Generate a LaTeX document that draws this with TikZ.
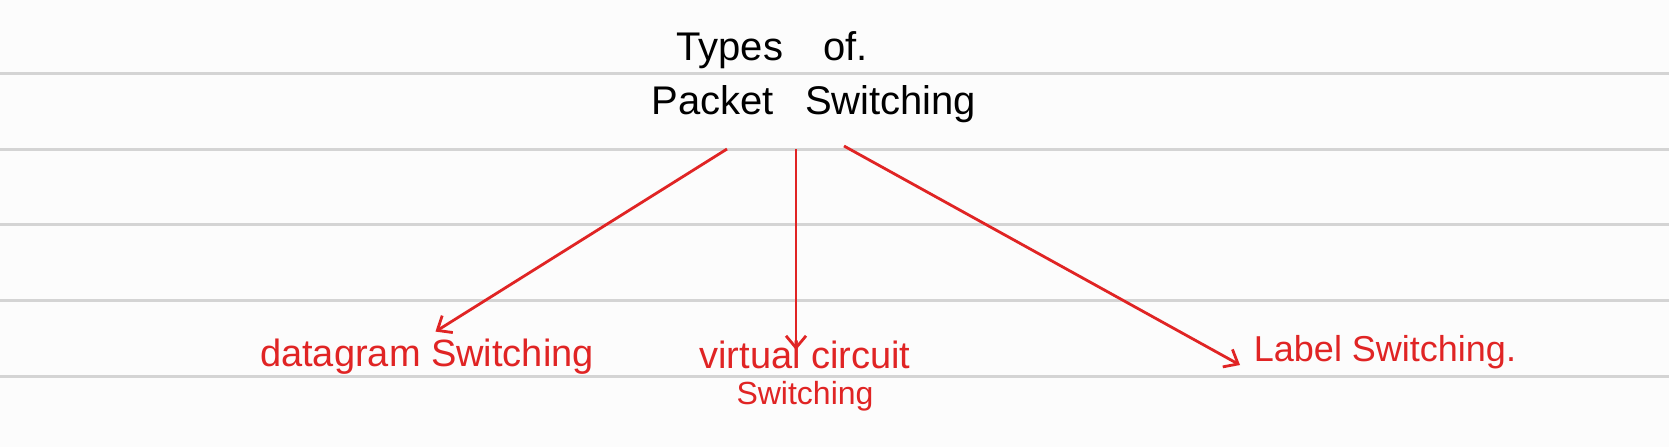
\documentclass[tikz,border=0pt]{standalone}
\usepackage{fontspec}
\setmainfont{Liberation Sans}
\usetikzlibrary{positioning,arrows.meta}
\definecolor{penred}{HTML}{E02424}
\definecolor{ruleline}{HTML}{D4D4D4}
\definecolor{paper}{HTML}{FCFCFC}
\tikzset{
  blacktext/.style={font=\fontsize{20}{22}\selectfont, text=black, inner sep=1pt},
  redtext/.style={font=\fontsize{19}{21}\selectfont, text=penred, inner sep=1pt, align=center},
  redarrow/.style={-{Straight Barb[length=6pt,width=10pt]}, draw=penred, line width=1.4pt}
}
\begin{document}
\begin{tikzpicture}[x=0.5pt,y=-0.5pt]
        \fill[paper] (0,0) rectangle (1669,447);
        \useasboundingbox (0,0) rectangle (1669,447);
		\foreach \Y in {73,149,224,300,376} {
			\draw[ruleline, line width=1.5pt] (0,\Y) -- (1669,\Y);}
        % title
		\node[blacktext] (types) at (772,50) {Types\quad of.};
		\node[blacktext] (packet) at (814,104) {Packet\enspace\ Switching};
        % the three kinds
		\node[redtext] (dgram) at (427,357) {datagram Switching};
		\node[redtext] (vcirc) at (805,376) {virtual circuit\\[-3pt]{\fontsize{16}{18}\selectfont Switching}};
		\node[redtext, font=\fontsize{18}{20}\selectfont] (label) at (1385,352) {Label Switching.};
        % arrows
        \coordinate (p1) at (727,149);
        \coordinate (p2) at (796,149);
        \coordinate (p3) at (844,146);
        \coordinate (v1) at (796,350);
        \coordinate (l1) at (1240,365);
		\draw[redarrow, shorten >=5pt] (p1) -- (dgram.north);
		\draw[redarrow] (p2) -- (v1);
		\draw[redarrow] (p3) -- (l1);
\end{tikzpicture}
\end{document}
